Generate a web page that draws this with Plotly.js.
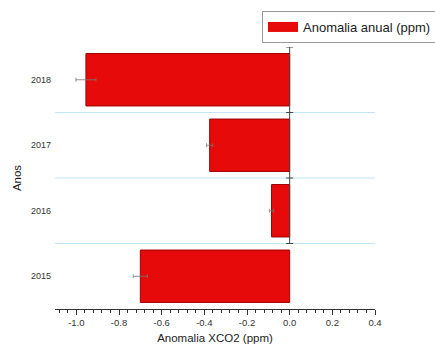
<!DOCTYPE html>
<html>
<head>
<meta charset="utf-8">
<script src="https://cdn.plot.ly/plotly-3.0.1.min.js"></script>
<style>html,body{margin:0;padding:0;background:#fff;}#chart{width:435px;height:347px;}</style>
</head>
<body>
<div id="chart"></div>
<script>
// Data
const years = ['2015', '2016', '2017', '2018'];
const anomaly = [-0.70, -0.085, -0.375, -0.955];
const anomalyErr = [0.033, 0.010, 0.015, 0.047];
const seriesName = 'Anomalia anual (ppm)';

const yPos = years.map((_, i) => i);
// boundaries between categories (and top edge) where the baseline has caps
const bounds = years.map((_, i) => i + 0.5);
const zeroLine = bounds.map(() => 0);

const barTrace = {
  type: 'bar',
  orientation: 'h',
  x: anomaly,
  y: yPos,
  width: 0.8,
  name: seriesName,
  showlegend: false,
  marker: { color: '#e60a0a', line: { color: '#a00000', width: 1 } },
  error_x: { type: 'data', array: anomalyErr, visible: true, color: '#777', thickness: 0.8, width: 2 },
  hoverinfo: 'x+y'
};

const baseTrace = {
  type: 'scatter',
  mode: 'lines+markers',
  x: zeroLine,
  y: bounds,
  showlegend: false,
  line: { color: '#444', width: 1 },
  marker: { symbol: 'line-ew-open', size: 5, color: '#444', line: { color: '#444', width: 1 } },
  hoverinfo: 'skip'
};

const legendTrace = {
  type: 'scatter',
  mode: 'lines',
  x: [null],
  y: [null],
  name: seriesName,
  line: { color: '#e60a0a', width: 10 },
  showlegend: true,
  hoverinfo: 'skip'
};

const shapes = years.slice(0, -1).map((_, i) => ({
  type: 'line', xref: 'paper', yref: 'y',
  x0: 0, x1: 1, y0: i + 0.5, y1: i + 0.5,
  line: { color: '#bfe6f2', width: 1 },
  layer: 'below'
}));

const layout = {
  width: 435, height: 347,
  margin: { l: 55, r: 60, t: 47, b: 38, autoexpand: false },
  paper_bgcolor: '#fff', plot_bgcolor: '#fff',
  font: { family: 'Liberation Sans, Arial, sans-serif', color: '#222', size: 9 },
  showlegend: true,
  legend: {
    x: 262 / 435, xref: 'container', xanchor: 'left',
    y: 1 - 11 / 347, yref: 'container', yanchor: 'top',
    bordercolor: '#999', borderwidth: 1, bgcolor: '#fff',
    font: { size: 13, color: '#222' },
    itemwidth: 30,
    tracegroupgap: 0
  },
  xaxis: {
    range: [-1.1, 0.4],
    tickvals: [-1.0, -0.8, -0.6, -0.4, -0.2, 0.0, 0.2, 0.4],
    ticktext: ['-1.0', '-0.8', '-0.6', '-0.4', '-0.2', '0.0', '0.2', '0.4'],
    ticks: 'outside', ticklen: 5, tickwidth: 1, tickcolor: '#333',
    minor: { dtick: 0.04, tick0: 0, ticks: 'outside', ticklen: 3, tickwidth: 1, tickcolor: '#333', showgrid: false },
    showline: true, linecolor: '#333', linewidth: 1,
    showgrid: false, zeroline: false,
    tickfont: { size: 9.5, color: '#333' },
    title: { text: 'Anomalia XCO2 (ppm)', font: { size: 11.5, color: '#222' }, standoff: 6 },
    fixedrange: true
  },
  yaxis: {
    range: [-0.5, 3.5],
    tickvals: yPos,
    ticktext: years,
    ticks: '',
    showline: false, showgrid: false, zeroline: false,
    tickfont: { size: 9, color: '#333' },
    ticklabelstandoff: 3,
    title: { text: 'Anos', font: { size: 11.5, color: '#222' }, standoff: 6 },
    fixedrange: true
  },
  shapes: shapes
};

Plotly.newPlot('chart', [barTrace, baseTrace, legendTrace], layout, { displayModeBar: false, staticPlot: true });
</script>
</body>
</html>
